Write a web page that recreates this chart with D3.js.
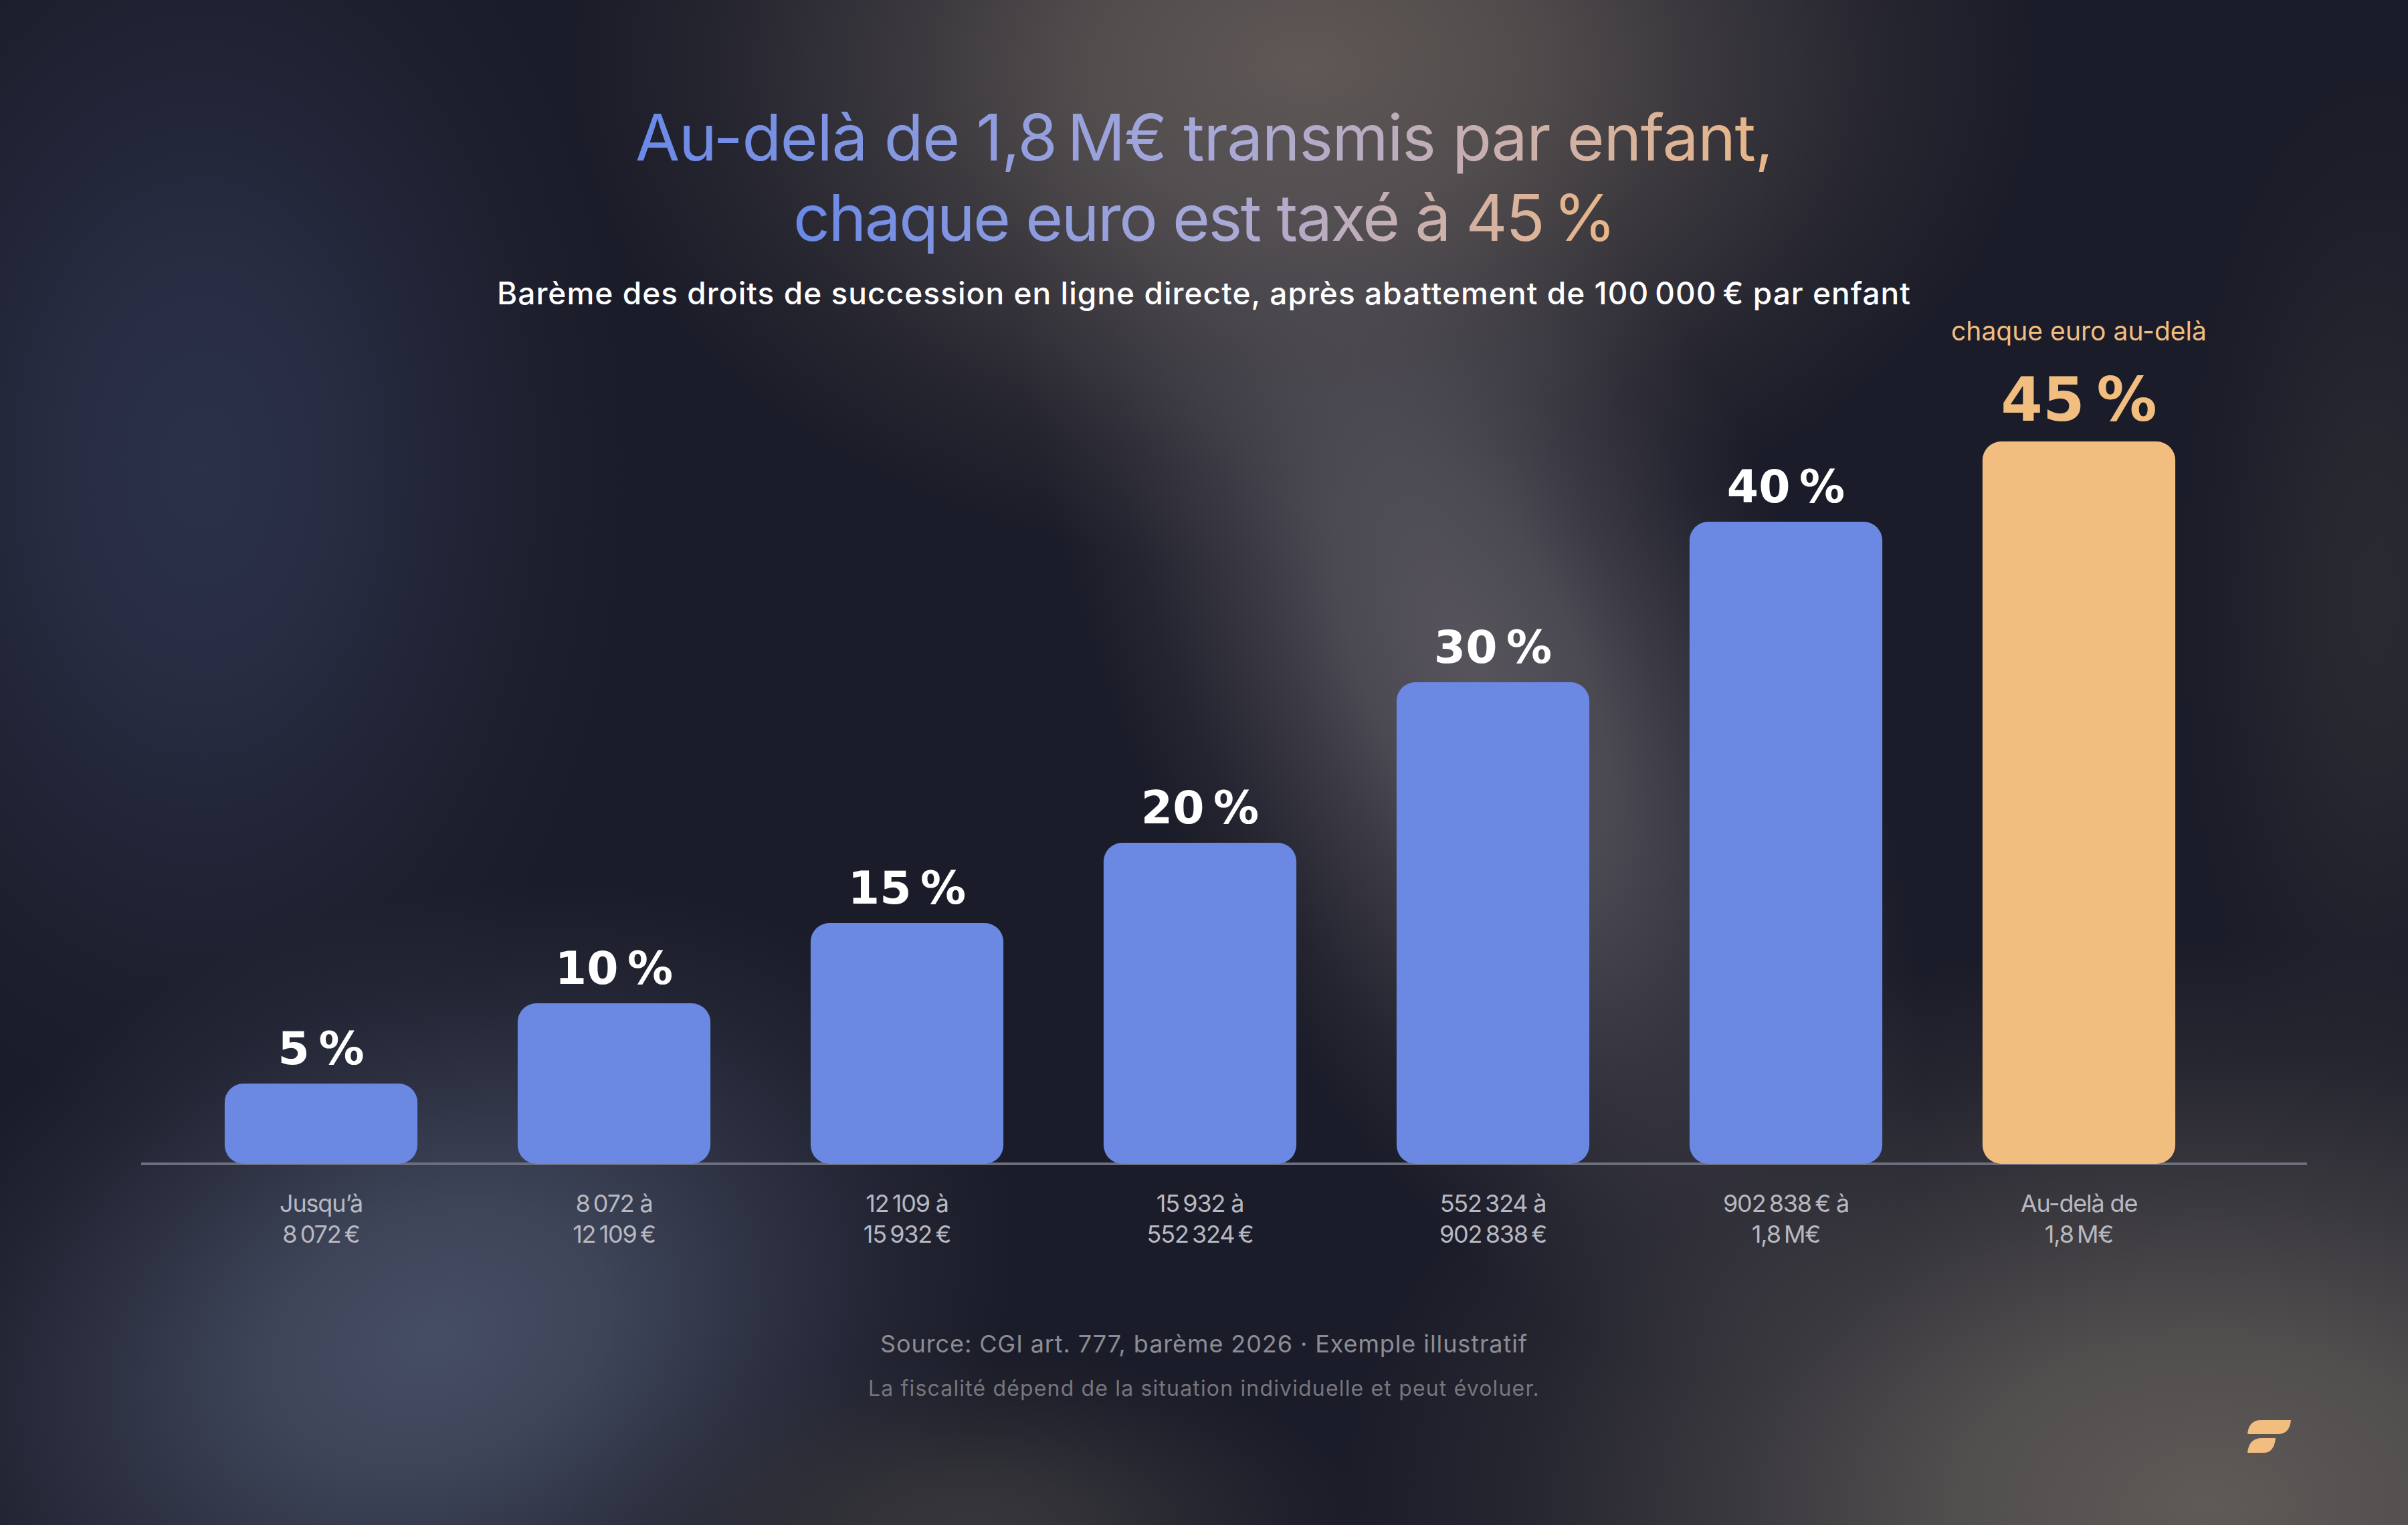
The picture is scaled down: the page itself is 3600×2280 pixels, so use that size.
<!DOCTYPE html>
<html>
<head>
<meta charset="utf-8">
<script src="https://cdn.jsdelivr.net/npm/d3@7"></script>
<style>
  html, body { margin: 0; padding: 0; background: #1b1c28; }
  svg { display: block; }
</style>
</head>
<body>
<div id="chart"></div>
<script>
const nb = "\u202F";

// data
const rates = [5, 10, 15, 20, 30, 40, 45];
const rangeFrom = ["Jusqu’à", `8${nb}072 à`, `12${nb}109 à`, `15${nb}932 à`, `552${nb}324 à`, `902${nb}838${nb}€ à`, "Au-delà de"];
const rangeTo = [`8${nb}072${nb}€`, `12${nb}109${nb}€`, `15${nb}932${nb}€`, `552${nb}324${nb}€`, `902${nb}838${nb}€`, `1,8${nb}M€`, `1,8${nb}M€`];
const titleLines = [`Au-delà de 1,8${nb}M€ transmis par enfant,`, `chaque euro est taxé à 45${nb}%`];
const subtitle = `Barème des droits de succession en ligne directe, après abattement de 100${nb}000${nb}€ par enfant`;
const topNote = "chaque euro au-delà";
const sourceLines = [`Source: CGI art. 777, barème 2026 · Exemple illustratif`, "La fiscalité dépend de la situation individuelle et peut évoluer."];

(() => {
    const width = 3600, height = 2280;
    const blue = "#6b89e2", peach = "#f2be80";
    const base = 1740, top45 = 660;

    const svg = d3.select("#chart").append("svg")
        .attr("width", width)
        .attr("height", height);

    const defs = svg.append("defs");

    const grad = defs.append("linearGradient").attr("id", "titleGrad");
    grad.append("stop").attr("offset", "0%").attr("stop-color", "#6a89e8");
    grad.append("stop").attr("offset", "50%").attr("stop-color", "#a6a8d8");
    grad.append("stop").attr("offset", "100%").attr("stop-color", "#e9b687");

    svg.append("rect").attr("width", width).attr("height", height).attr("fill", "#1b1c29");

    // soft background glows
    const glows = [
        { cx: 300, cy: 700, rx: 650, ry: 1000, rot: 0, c: "#2b3149" },
        { cx: 650, cy: 2000, rx: 900, ry: 650, rot: -20, c: "#464e64" },
        { cx: 1950, cy: 100, rx: 1100, ry: 750, rot: 0, c: "#5f5855" },
        { cx: 2200, cy: 1000, rx: 520, ry: 1150, rot: -25, c: "#57545c" },
        { cx: 3300, cy: 2250, rx: 1300, ry: 850, rot: 0, c: "#5e5a57" },
        { cx: 1450, cy: 2280, rx: 600, ry: 260, rot: 0, c: "#36363a" },
        { cx: 3550, cy: 900, rx: 300, ry: 800, rot: 0, c: "#2a2a32" }
    ];
    glows.forEach((g, i) => {
        const rg = defs.append("radialGradient").attr("id", "glow" + i);
        [[0, 1], [0.3, 0.8], [0.55, 0.45], [0.8, 0.15], [1, 0]].forEach(([o, a]) =>
            rg.append("stop").attr("offset", o).attr("stop-color", g.c).attr("stop-opacity", a));
    });
    svg.append("g")
        .selectAll("ellipse").data(glows).enter().append("ellipse")
        .attr("transform", d => `translate(${d.cx},${d.cy}) rotate(${d.rot})`)
        .attr("rx", d => d.rx).attr("ry", d => d.ry)
        .attr("fill", (d, i) => `url(#glow${i})`);

    // fit a text to a target width with letter spacing
    const fit = (sel, target) => {
        const n = sel.text().length;
        const w = sel.node().getComputedTextLength();
        sel.attr("letter-spacing", (target - w) / n);
    };

    // title
    const titleW = [1700, 1228];
    titleLines.forEach((t, i) => {
        const el = svg.append("text")
            .attr("x", width / 2).attr("y", 240 + i * 120)
            .attr("text-anchor", "middle")
            .style("font-family", "Inter, 'Liberation Sans', sans-serif")
            .style("font-size", "96px")
            .attr("fill", "url(#titleGrad)")
            .text(t);
        fit(el, titleW[i]);
    });

    const sub = svg.append("text")
        .attr("x", width / 2).attr("y", 455)
        .attr("text-anchor", "middle")
        .style("font-family", "Inter, 'Liberation Sans', sans-serif")
        .style("font-size", "46px")
        .style("font-weight", 500)
        .attr("fill", "#ffffff")
        .text(subtitle);
    fit(sub, 2114);

    // scales
    const x = d3.scaleBand()
        .domain(d3.range(rates.length))
        .range([261, 3327])
        .paddingInner(0.342)
        .paddingOuter(0.171);

    const y = d3.scaleLinear()
        .domain([0, 45])
        .range([base, top45]);

    const last = rates.length - 1;

    svg.append("line")
        .attr("x1", 211).attr("x2", 3449)
        .attr("y1", base).attr("y2", base)
        .attr("stroke", "#6d6f7d").attr("stroke-width", 4);

    svg.selectAll(".bar")
        .data(rates)
        .enter()
        .append("rect")
        .attr("class", "bar")
        .attr("x", (d, i) => x(i))
        .attr("y", d => y(d))
        .attr("width", x.bandwidth())
        .attr("height", d => y(0) - y(d))
        .attr("rx", 28)
        .attr("fill", (d, i) => i === last ? peach : blue);

    svg.selectAll(".pct")
        .data(rates)
        .enter()
        .append("text")
        .attr("class", "pct")
        .attr("x", (d, i) => x(i) + x.bandwidth() / 2)
        .attr("y", (d, i) => y(d) - (i === last ? 31 : 29))
        .attr("text-anchor", "middle")
        .style("font-family", "'DejaVu Sans', sans-serif")
        .style("font-weight", 700)
        .style("font-size", (d, i) => i === last ? "90px" : "68px")
        .attr("letter-spacing", (d, i) => i === last ? -2 : -1)
        .attr("fill", (d, i) => i === last ? peach : "#ffffff")
        .text(d => `${d}${nb}%`);

    const note = svg.append("text")
        .attr("x", x(last) + x.bandwidth() / 2)
        .attr("y", y(45) - 151)
        .attr("text-anchor", "middle")
        .style("font-family", "Inter, 'Liberation Sans', sans-serif")
        .style("font-size", "39px")
        .attr("fill", peach)
        .text(topNote);
    fit(note, 382);

    // x labels
    const xl = svg.selectAll(".xlab")
        .data(rates)
        .enter()
        .append("text")
        .attr("class", "xlab")
        .attr("text-anchor", "middle")
        .style("font-family", "Inter, 'Liberation Sans', sans-serif")
        .style("font-size", "36px")
        .attr("letter-spacing", -1.2)
        .attr("fill", "#b8b8c0");
    xl.append("tspan")
        .attr("x", (d, i) => x(i) + x.bandwidth() / 2)
        .attr("y", base + 72)
        .text((d, i) => rangeFrom[i]);
    xl.append("tspan")
        .attr("x", (d, i) => x(i) + x.bandwidth() / 2)
        .attr("y", base + 118)
        .text((d, i) => rangeTo[i]);

    // source
    const srcStyle = [{ y: 2022, s: "36px", c: "#8c8c93", w: 968 }, { y: 2087, s: "32px", c: "#76767d", w: 1004 }];
    sourceLines.forEach((t, i) => {
        const el = svg.append("text")
            .attr("x", width / 2).attr("y", srcStyle[i].y)
            .attr("text-anchor", "middle")
            .style("font-family", "Inter, 'Liberation Sans', sans-serif")
            .style("font-size", srcStyle[i].s)
            .attr("fill", srcStyle[i].c)
            .text(t);
        fit(el, srcStyle[i].w);
    });

    // logo
    const logo = svg.append("g").attr("fill", peach);
    logo.append("path").attr("d", "M3360,2144 Q3362,2123 3381,2123 L3425,2123 Q3423,2144 3406,2144 Z");
    logo.append("path").attr("d", "M3360,2172 Q3362,2150 3382,2150 L3402,2150 Q3400,2172 3384,2172 Z");
})();
</script>
</body>
</html>
